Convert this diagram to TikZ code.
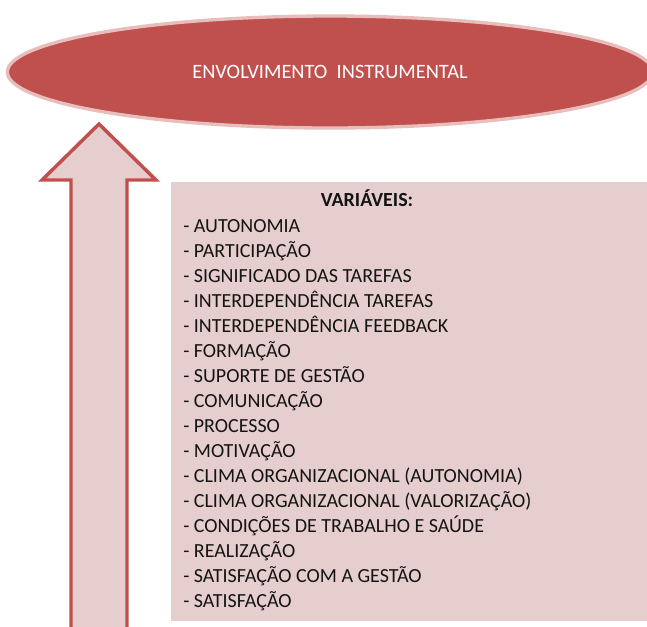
\documentclass[tikz,border=0pt]{standalone}
\usepackage{fontspec}
\setmainfont{Carlito}
\usetikzlibrary{shapes.geometric}

\begin{document}
\begin{tikzpicture}[x=0.75pt,y=-0.75pt]
      % Color definitions
      \definecolor{ovalcolor}{RGB}{192, 80, 77}
      \definecolor{rimcolor}{RGB}{232, 190, 189}
      \definecolor{boxcolor}{RGB}{230, 206, 207}
      \definecolor{textcolor}{RGB}{20, 20, 20}

      % Layout parameters (baselines)
      \def\listx{183}
      \def\listtop{232.5}
      \def\linestep{25}

      \useasboundingbox (0,0) rectangle (647,626);

      % Oval at the top
      \node[
          ellipse,
          fill=ovalcolor,
          draw=rimcolor,
          line width=2.5pt,
          minimum width=484pt,
          minimum height=84pt,
          text=white,
          font=\fontsize{15.3}{18}\selectfont
      ] (envolvimento) at (330,72) {\raisebox{-2pt}{ENVOLVIMENTO\ \ INSTRUMENTAL}};

      % Block arrow pointing up
      \filldraw[
          fill=boxcolor,
          draw=ovalcolor,
          line width=2.6pt,
          line join=miter
      ]
          (99,124) --
          (42,180) --
          (71,180) --
          (71,640) --
          (127,640) --
          (127,180) --
          (156,180) -- cycle;

      % Box of variables
      \fill[boxcolor] (171,182) rectangle (652,621);

      % Heading
      \node[font=\bfseries\fontsize{15}{18}\selectfont, text=textcolor, anchor=base] (titulo) at (367,206.5) {VARIÁVEIS:};

      % List of variables
      \foreach \nome [count=\i] in {
          AUTONOMIA,
          PARTICIPAÇÃO,
          SIGNIFICADO DAS TAREFAS,
          INTERDEPENDÊNCIA TAREFAS,
          INTERDEPENDÊNCIA FEEDBACK,
          FORMAÇÃO,
          SUPORTE DE GESTÃO,
          COMUNICAÇÃO,
          PROCESSO,
          MOTIVAÇÃO,
          CLIMA ORGANIZACIONAL (AUTONOMIA),
          CLIMA ORGANIZACIONAL (VALORIZAÇÃO),
          CONDIÇÕES DE TRABALHO E SAÚDE,
          REALIZAÇÃO,
          SATISFAÇÃO COM A GESTÃO,
          SATISFAÇÃO
      } {
          \node[font=\fontsize{15}{18}\selectfont, text=textcolor, anchor=base west, inner sep=0pt]
              (var\i) at (\listx, {\listtop + (\i-1)*\linestep}) {- \nome};
      }

\end{tikzpicture}
\end{document}
